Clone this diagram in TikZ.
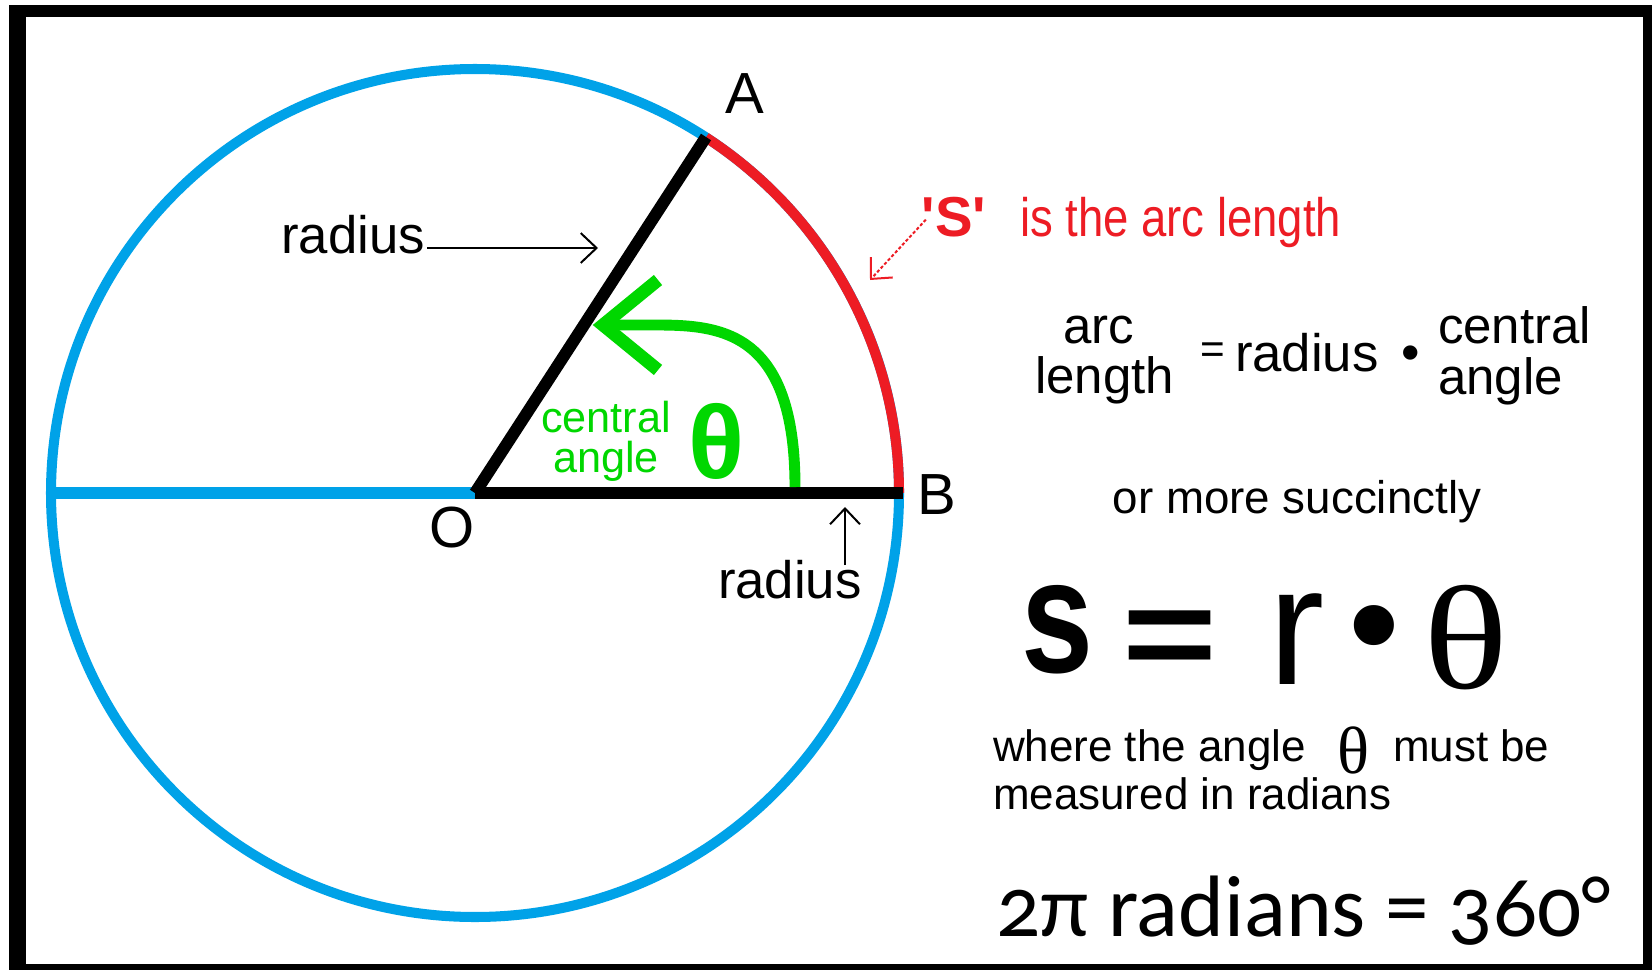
\documentclass[tikz,border=0pt]{standalone}
\usepackage{fontspec}
\setmainfont{Liberation Sans}
\newfontfamily\serifth{Liberation Serif}
\newfontfamily\candara[Numbers=OldStyle]{Carlito}
\usetikzlibrary{arrows.meta,calc}
\newcommand\myfs[1]{\fontsize{#1}{#1}\selectfont}
\definecolor{cblue}{RGB}{0,162,232}
\definecolor{cred}{RGB}{237,28,36}
\definecolor{cgreen}{RGB}{0,215,0}
\tikzset{
  lbl/.style={inner sep=0pt, outer sep=0pt},
  thinarr/.style={line width=0.57pt, -{Straight Barb[length=4.5pt,width=8.5pt]}},
  circline/.style={cblue, line width=2.85pt},
  radline/.style={black, line width=3.41pt},
}
\begin{document}
\begin{tikzpicture}[x=0.01cm,y=-0.01cm]
\useasboundingbox (0,0) rectangle (1652,970);
\fill[black] (9,5) rectangle (1652,970);
\fill[white] (26,17) rectangle (1643,964);

\coordinate (O) at (475,493);
\coordinate (B) at (899,493);
\coordinate (A) at (706,137);
\coordinate (L) at (51,493);

% circle and arc
\draw[circline] (O) circle[radius=424];
\draw[cred, line width=2.85pt] (B) arc[start angle=0, end angle=-57, radius=424];
\draw[cblue, line width=3.41pt] (L) -- (O);
\draw[radline] (O) -- ([xshift=0.04cm]B);
\draw[radline] (O) -- (A);

% green angle arrow
\coordinate (g0) at (795,487);
\coordinate (g1) at (655,325);
\coordinate (gt) at (603,325);
\draw[cgreen, line width=3.1pt] (g0) .. controls (795,330) and (720,325) .. (g1) -- (gt);
\draw[cgreen, line width=3.7pt, miter limit=10] (658,280) -- (gt) -- (658,370);

% point labels
\node[lbl, font=\myfs{16.5}] (lA) at (745,94) {A};
\node[lbl, font=\myfs{16.5}] (lB) at (937,495) {B};
\node[lbl, font=\myfs{16.5}] (lO) at (452,528) {O};

% radius labels
\node[lbl, anchor=base east, font=\myfs{15}] (r1) at (425,253) {radius};
\coordinate (t1) at (598,248);
\draw[thinarr] ($(r1.base east)+(2,-5)$) -- (t1);
\node[lbl, anchor=base west, font=\myfs{15}] (r2) at (718,598) {radius};
\coordinate (t2) at (845,507);
\draw[thinarr] (845,565) -- (t2);

% S label
\node[lbl, anchor=base, text=cred, font=\myfs{16}\bfseries] (S) at (954,236) {\textquotesingle S\textquotesingle};
\node[lbl, anchor=base west, text=cred, font=\myfs{15.4}] (arcl) at (1020,236) {\scalebox{0.84}[1]{is the arc length}};
\coordinate (t3) at (870,280);
\draw[cred, line width=0.57pt, dash pattern=on 0.9pt off 0.6pt, -{Straight Barb[length=4.5pt,width=8.5pt]}] ($(S.west)+(4,3)$) -- (t3);

% green text
\node[lbl, anchor=base, text=cgreen, font=\myfs{12.3}] (gc1) at (606,432) {central};
\node[lbl, anchor=base, text=cgreen, font=\myfs{12.3}] (gc2) at (606,472) {angle};
\node[lbl, text=cgreen, font=\myfs{29.5}\bfseries] (gth) at (717,441) {θ};

% word equation
\node[lbl, anchor=base, font=\myfs{14.5}] (eqarc) at (1099,343) {arc};
\node[lbl, anchor=base west, font=\myfs{14.5}] (eqlen) at (1035,393) {length};
\node[lbl, font=\myfs{12}] (eqeq) at (1213,353) {=};
\node[lbl, anchor=base west, font=\myfs{15}] (eqrad) at (1235,371) {radius};
\node[lbl, font=\myfs{15}] (eqdot) at (1411,358) {•};
\node[lbl, anchor=base west, font=\myfs{14.5}] (eqcen) at (1438,343) {central};
\node[lbl, anchor=base west, font=\myfs{14.5}] (eqang) at (1438,394) {angle};

\node[lbl, anchor=base, font=\myfs{13}] (succ) at (1297,513) {or more succinctly};

% s = r . theta
\node[lbl, anchor=base, font=\myfs{46}\bfseries] (bs) at (1057,672) {\scalebox{0.8}[1]{s}};
\node[lbl, anchor=base, font=\myfs{37}\bfseries] (beq) at (1170,678) {\scalebox{1.25}[1]{=}};
\node[lbl, anchor=base, font=\myfs{48}] (br) at (1297,684) {r};
\node[lbl, font=\myfs{42}] (bdot) at (1374,640) {•};
\node[lbl, font=\myfs{42}\serifth] (bth) at (1466,638) {\scalebox{1.2}[1]{θ}};

\node[lbl, anchor=base west, font=\myfs{12.5}] (wh) at (993,761) {where the angle};
\node[lbl, font=\myfs{19}\serifth] (sth) at (1353,750) {θ};
\node[lbl, anchor=base west, font=\myfs{12.5}] (mb) at (1393,761) {must be};
\node[lbl, anchor=base west, font=\myfs{12.5}] (mr) at (993,809) {measured in radians};

\node[lbl, anchor=base west, font=\myfs{24.8}\candara] (rad) at (996,936) {2π radians = 360°};
\end{tikzpicture}
\end{document}
